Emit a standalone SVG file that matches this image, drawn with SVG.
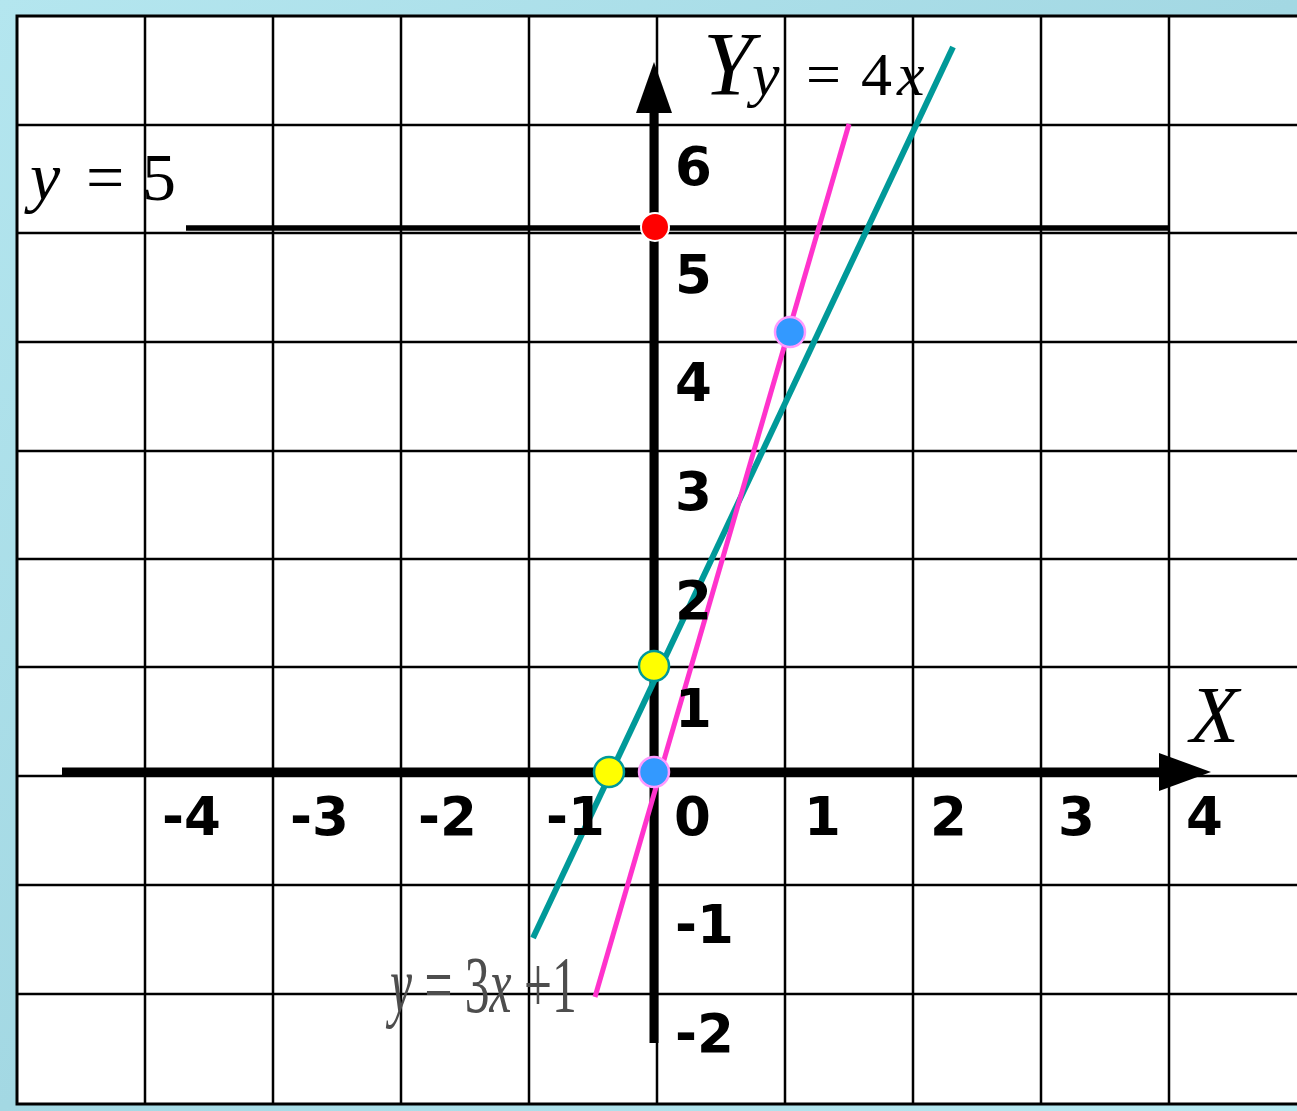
<svg xmlns="http://www.w3.org/2000/svg" width="1297" height="1111" viewBox="0 0 1297 1111">
<defs>
<linearGradient id="bg" x1="0" y1="0" x2="1" y2="1">
<stop offset="0" stop-color="#b4e6ef"/>
<stop offset="0.5" stop-color="#a3d8e3"/>
<stop offset="1" stop-color="#b8eaf2"/>
</linearGradient>
<style>
.grid{stroke:#000;stroke-width:2.5;fill:none}
.num{font-family:"DejaVu Sans",Verdana,sans-serif;font-weight:bold;font-size:53px;fill:#000}
.math{font-family:"Liberation Serif","Times New Roman",serif;fill:#000}
.it{font-style:italic}
</style>
</defs>
<rect x="0" y="0" width="1297" height="1111" fill="url(#bg)"/>
<g id="grid">
<rect x="17" y="16" width="1282" height="1088" fill="#fff" stroke="#000" stroke-width="3"/>
<path class="grid" d="M145 16V1104M273 16V1104M401 16V1104M529 16V1104M657 16V1104M785 16V1104M913 16V1104M1041 16V1104M1169 16V1104M17 125H1297M17 233H1297M17 342H1297M17 451H1297M17 559H1297M17 667H1297M17 776H1297M17 885H1297M17 994H1297"/>
</g>
<g id="connectors">
<line x1="186" y1="228" x2="1169" y2="228" stroke="#000" stroke-width="5.5"/>
<line x1="654" y1="1043" x2="654" y2="105" stroke="#000" stroke-width="9"/>
<polygon points="654,62 672,113 636,113" fill="#000"/>
<line x1="62" y1="772" x2="1165" y2="772" stroke="#000" stroke-width="9"/>
<polygon points="1211,772 1159,753 1159,791" fill="#000"/>
<line x1="533" y1="938" x2="953" y2="47" stroke="#009999" stroke-width="6"/>
<line x1="595" y1="997" x2="849" y2="124" stroke="#ff33cc" stroke-width="5"/>
</g>
<g id="points">
<circle cx="655" cy="227" r="14" fill="#ff0000" stroke="#fff" stroke-width="2"/>
<circle cx="790" cy="332" r="15" fill="#3399ff" stroke="#ff99ff" stroke-width="2.5"/>
<circle cx="654" cy="666" r="15" fill="#ffff00" stroke="#009999" stroke-width="2.5"/>
<circle cx="609" cy="772" r="15" fill="#ffff00" stroke="#009999" stroke-width="2.5"/>
<circle cx="654" cy="772" r="15" fill="#3399ff" stroke="#ff99ff" stroke-width="2.5"/>
</g>
<g id="y-labels" class="num">
<text x="675" y="185">6</text>
<text x="675" y="293">5</text>
<text x="675" y="401">4</text>
<text x="675" y="510">3</text>
<text x="675" y="619">2</text>
<text x="675" y="727">1</text>
<text x="675" y="943">-1</text>
<text x="675" y="1052">-2</text>
</g>
<g id="x-labels" class="num">
<text x="162" y="835">-4</text>
<text x="290" y="835">-3</text>
<text x="418" y="835">-2</text>
<text x="546" y="835">-1</text>
<text x="674" y="835">0</text>
<text x="804" y="835">1</text>
<text x="930" y="835">2</text>
<text x="1058" y="835">3</text>
<text x="1186" y="835">4</text>
</g>
<g id="axis-names">
<text class="math it" x="703" y="95" font-size="90">Y</text>
<text class="math it" x="1190" y="742" font-size="80">X</text>
</g>
<g id="eq-4x">
<text class="math" y="95" font-size="62"><tspan class="it" x="752">y</tspan><tspan x="806">=</tspan><tspan x="861">4</tspan><tspan class="it" x="897">x</tspan></text>
</g>
<g id="eq-5">
<text class="math" y="200" font-size="68"><tspan class="it" x="30">y</tspan><tspan x="86">=</tspan><tspan x="142">5</tspan></text>
</g>
<g id="eq-3x1" transform="translate(390,1012) scale(0.62,1)">
<text class="math" x="0" y="0" font-size="80" style="fill:#4d4d4d"><tspan class="it">y</tspan> = 3<tspan class="it">x</tspan> +1</text>
</g>
</svg>
